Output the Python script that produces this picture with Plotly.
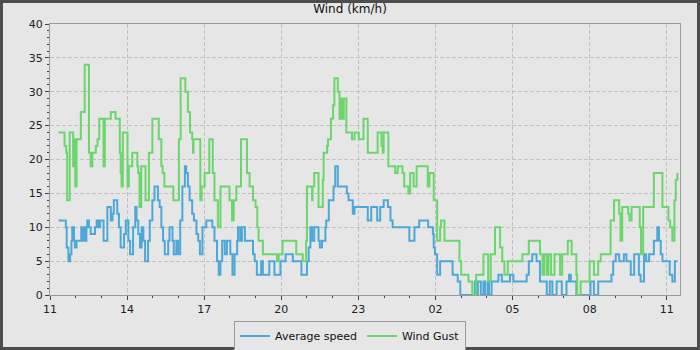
from datetime import datetime, timedelta
import plotly.graph_objects as go

# Wind readings logged on change (clock time, km/h); the log runs past midnight.
avg_clock = [
    "11:20", "11:37", "11:39", "11:43", "11:47", "11:50", "11:52", "11:56", "11:58", "12:02",
    "12:13", "12:16", "12:19", "12:22", "12:25", "12:27", "12:31", "12:35", "12:45", "12:49",
    "12:53", "12:57", "13:05", "13:14", "13:22", "13:26", "13:29", "13:37", "13:41", "13:45",
    "13:53", "13:57", "14:03", "14:07", "14:14", "14:19", "14:22", "14:26", "14:30", "14:34",
    "14:38", "14:42", "14:49", "14:53", "14:59", "15:04", "15:12", "15:16", "15:20", "15:24",
    "15:28", "15:36", "15:39", "15:46", "15:49", "15:55", "15:59", "16:04", "16:09", "16:15",
    "16:18", "16:22", "16:26", "16:32", "16:36", "16:42", "16:46", "16:50", "16:56", "17:05",
    "17:19", "17:24", "17:30", "17:34", "17:38", "17:42", "17:48", "17:53", "18:01", "18:06",
    "18:11", "18:17", "18:19", "18:24", "18:28", "18:35", "18:54", "18:58", "19:03", "19:13",
    "19:17", "19:32", "19:44", "19:58", "20:10", "20:27", "20:47", "21:00", "21:04", "21:08",
    "21:12", "21:17", "21:27", "21:30", "21:35", "21:43", "21:45", "21:51", "22:02", "22:06",
    "22:12", "22:33", "22:37", "22:47", "22:51", "23:22", "23:30", "23:44", "23:51", "23:59",
    "00:09", "00:15", "00:20", "00:59", "01:11", "01:22", "01:43", "01:54", "01:56", "01:59",
    "02:04", "02:11", "02:40", "02:52", "02:58", "03:32", "03:36", "03:39", "03:46", "03:52",
    "03:56", "04:02", "04:05", "04:11", "04:27", "04:35", "04:54", "05:02", "05:33", "05:38",
    "05:46", "05:56", "06:04", "06:20", "06:27", "06:33", "06:43", "06:55", "07:06", "07:12",
    "07:16", "07:29", "08:02", "08:10", "08:20", "08:51", "08:55", "09:01", "09:09", "09:20",
    "09:26", "09:36", "09:44", "09:55", "09:59", "10:07", "10:12", "10:19", "10:30", "10:38",
    "10:42", "10:46", "10:50", "11:07", "11:13", "11:19", "11:25",
]
avg_speed = [
    11, 10, 7, 5, 6, 8, 10, 8, 7, 8,
    10, 8, 10, 8, 10, 11, 10, 9, 10, 11,
    10, 11, 8, 13, 11, 12, 14, 12, 10, 7,
    9, 11, 8, 6, 10, 13, 11, 9, 7, 10,
    8, 5, 8, 11, 14, 16, 14, 13, 10, 8,
    6, 8, 10, 8, 6, 8, 6, 11, 16, 19,
    18, 16, 14, 12, 11, 9, 8, 6, 10, 11,
    10, 8, 5, 3, 5, 8, 6, 8, 6, 3,
    6, 8, 10, 8, 10, 8, 6, 5, 3, 5,
    3, 5, 3, 5, 6, 5, 3, 5, 7, 10,
    8, 10, 8, 7, 8, 10, 11, 14, 16, 19,
    16, 15, 14, 12, 13, 11, 13, 11, 13, 14,
    13, 11, 10, 8, 10, 11, 10, 9, 7, 6,
    3, 5, 3, 2, 0, 2, 0, 2, 0, 2,
    0, 2, 0, 2, 3, 2, 3, 2, 3, 5,
    6, 5, 2, 0, 2, 0, 2, 0, 2, 3,
    2, 0, 2, 0, 2, 3, 5, 6, 5, 6,
    5, 3, 6, 3, 2, 6, 5, 6, 8, 10,
    8, 6, 5, 3, 2, 5, 5,
]

gust_clock = [
    "11:20", "11:34", "11:38", "11:40", "11:46", "11:54", "11:57", "11:59", "12:02", "12:12",
    "12:21", "12:31", "12:35", "12:39", "12:47", "12:51", "12:55", "13:05", "13:08", "13:22",
    "13:33", "13:43", "13:45", "13:47", "13:50", "14:01", "14:04", "14:12", "14:24", "14:26",
    "14:29", "14:33", "14:43", "14:51", "14:59", "15:14", "15:20", "15:23", "15:27", "15:48",
    "16:01", "16:05", "16:16", "16:22", "16:27", "16:32", "16:34", "16:35", "16:51", "16:54",
    "17:01", "17:12", "17:20", "17:24", "17:32", "17:38", "17:59", "18:05", "18:09", "18:15",
    "18:26", "18:40", "18:46", "18:54", "19:00", "19:04", "19:07", "19:17", "19:50", "19:54",
    "20:03", "20:35", "20:50", "20:58", "21:00", "21:12", "21:13", "21:17", "21:27", "21:37",
    "21:39", "21:47", "21:49", "21:56", "22:01", "22:04", "22:12", "22:16", "22:19", "22:23",
    "22:26", "22:32", "22:45", "22:51", "23:01", "23:12", "23:22", "23:45", "23:54", "23:57",
    "23:59", "00:10", "00:26", "00:32", "00:43", "00:47", "00:57", "01:01", "01:09", "01:16",
    "01:42", "01:46", "01:56", "02:04", "02:11", "02:13", "02:21", "02:56", "03:00", "03:17",
    "03:26", "03:35", "03:52", "04:03", "04:09", "04:19", "04:31", "04:36", "04:41", "04:49",
    "05:23", "05:38", "06:04", "06:10", "06:14", "06:20", "06:24", "06:30", "06:38", "06:51",
    "06:56", "07:09", "07:18", "07:29", "07:31", "07:39", "08:00", "08:10", "08:20", "08:26",
    "08:49", "08:57", "09:09", "09:12", "09:16", "09:30", "09:33", "09:38", "09:57", "10:00",
    "10:05", "10:30", "10:50", "11:04", "11:08", "11:13", "11:18", "11:21", "11:25",
]
wind_gust = [
    24, 22, 21, 14, 24, 19, 23, 16, 23, 27,
    34, 21, 19, 21, 22, 23, 26, 19, 26, 27,
    26, 21, 18, 16, 24, 16, 19, 21, 19, 18,
    13, 19, 14, 21, 26, 23, 19, 18, 16, 14,
    23, 32, 30, 27, 24, 23, 21, 23, 14, 16,
    18, 23, 18, 14, 10, 16, 14, 11, 14, 16,
    23, 18, 16, 14, 13, 10, 8, 6, 5, 6,
    8, 6, 5, 8, 16, 14, 16, 18, 13, 17,
    21, 22, 23, 26, 28, 32, 30, 26, 29, 26,
    29, 24, 23, 24, 23, 26, 21, 24, 22, 21,
    24, 19, 18, 19, 18, 16, 15, 18, 16, 19,
    16, 18, 14, 8, 10, 11, 8, 5, 3, 2,
    0, 3, 6, 2, 6, 10, 7, 5, 3, 5,
    6, 8, 6, 3, 6, 3, 6, 3, 6, 3,
    6, 8, 6, 3, 0, 2, 5, 3, 5, 6,
    11, 14, 12, 8, 13, 12, 11, 13, 10, 6,
    13, 18, 13, 11, 10, 8, 14, 17, 18,
]

y_ticks = [0, 5, 10, 15, 20, 25, 30, 35, 40]

START = datetime(2024, 5, 14)


def to_datetimes(clock):
    """Turn HH:MM strings into datetimes, rolling over to the next day at midnight."""
    out, day, prev = [], 0, None
    for s in clock:
        h, m = map(int, s.split(":"))
        minutes = h * 60 + m
        if prev is not None and minutes < prev:
            day += 1
        prev = minutes
        out.append(START + timedelta(days=day, minutes=minutes))
    return out


avg_t = to_datetimes(avg_clock)
gust_t = to_datetimes(gust_clock)

BLUE = "#4da8da"
GREEN = "#6bd66b"
BG = "#e6e6e6"
FONT = "DejaVu Sans"

fig = go.Figure()
fig.add_trace(go.Scatter(
    x=avg_t, y=avg_speed, name="Average speed", mode="lines",
    line=dict(color=BLUE, width=2, shape="hv"),
))
fig.add_trace(go.Scatter(
    x=gust_t, y=wind_gust, name="Wind Gust", mode="lines",
    line=dict(color=GREEN, width=2, shape="hv"),
))

W, H = 700, 350
ML, MR, MT, MB = 50, 20, 24, 55
pw, ph = W - ML - MR, H - MT - MB

t0 = START + timedelta(hours=11)
t1 = START + timedelta(days=1, hours=11, minutes=31)

fig.update_layout(
    width=W, height=H,
    margin=dict(l=ML, r=MR, t=MT, b=MB, autoexpand=False),
    paper_bgcolor=BG, plot_bgcolor=BG,
    font=dict(family=FONT, size=11, color="#222222"),
    title=dict(text="Wind (km/h)", x=0.5, xanchor="center", xref="container",
               y=1 - 9 / H, yanchor="middle", yref="container",
               font=dict(family=FONT, size=12, color="#111111")),
    showlegend=True,
    legend=dict(
        orientation="h", x=(W / 2 - ML) / pw, xanchor="center",
        y=(H - MB - 336) / ph, yanchor="middle",
        bgcolor=BG, bordercolor="#9a9a9a", borderwidth=1,
        font=dict(family=FONT, size=11, color="#111111"),
        itemwidth=30, tracegroupgap=0,
    ),
    xaxis=dict(
        type="date", range=[t0, t1],
        tick0=t0, dtick=3 * 3600 * 1000, tickformat="%H",
        ticks="outside", ticklen=4, tickcolor="#444444",
        minor=dict(dtick=3600 * 1000, ticks="outside", ticklen=2,
                   tickcolor="#444444", showgrid=False),
        showgrid=True, gridcolor="#c2c2c2", griddash="4px,2px", gridwidth=1,
        showline=True, linecolor="#9a9a9a", linewidth=1, mirror=True,
        zeroline=False, fixedrange=True,
    ),
    yaxis=dict(
        range=[0, 40], tickvals=y_ticks,
        ticks="outside", ticklen=4, tickcolor="#444444",
        minor=dict(dtick=1, ticks="outside", ticklen=2,
                   tickcolor="#444444", showgrid=False),
        showgrid=True, gridcolor="#c2c2c2", griddash="4px,2px", gridwidth=1,
        showline=True, linecolor="#9a9a9a", linewidth=1, mirror=True,
        zeroline=False, fixedrange=True,
    ),
)

# Dark frame around the whole chart canvas.
fig.add_shape(
    type="rect", xref="paper", yref="paper",
    x0=(1.5 - ML) / pw, x1=(W - 1.5 - ML) / pw,
    y0=(H - MB - (H - 1.5)) / ph, y1=(H - MB - 1.5) / ph,
    line=dict(color="#4d4d4d", width=3), fillcolor="rgba(0,0,0,0)",
    layer="below",
)

fig.write_html("out.html")
